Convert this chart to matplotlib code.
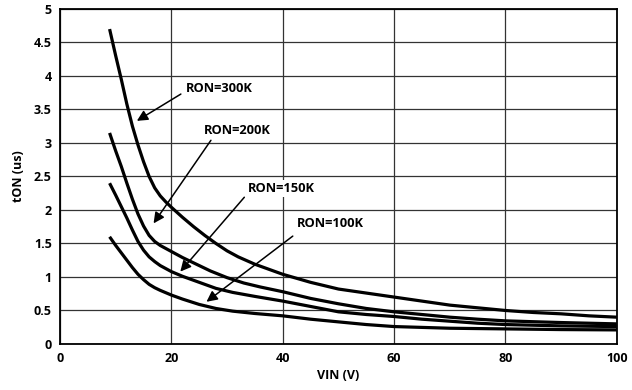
import matplotlib
matplotlib.use("Agg")
import matplotlib.pyplot as plt

plt.rcParams['font.family'] = ['Open Sans', 'DejaVu Sans']

# VIN (V) and tON (us)
vin_300k = [8.9, 10, 11, 12, 13, 14, 15, 16, 17, 18, 19, 20, 22, 24, 26, 28, 30, 32, 35, 38, 40, 45, 50, 55, 60, 65, 70, 75, 80, 85, 90, 95, 100]
ton_300k = [4.70, 4.30, 3.95, 3.58, 3.25, 2.97, 2.72, 2.50, 2.33, 2.21, 2.12, 2.04, 1.89, 1.75, 1.62, 1.50, 1.39, 1.30, 1.19, 1.10, 1.04, 0.92, 0.82, 0.76, 0.70, 0.64, 0.58, 0.54, 0.50, 0.47, 0.45, 0.42, 0.40]

vin_200k = [8.9, 10, 11, 12, 13, 14, 15, 16, 17, 18, 20, 22, 24, 27, 30, 33, 36, 40, 45, 50, 55, 60, 65, 70, 75, 80, 90, 100]
ton_200k = [3.15, 2.88, 2.65, 2.40, 2.16, 1.94, 1.76, 1.62, 1.53, 1.47, 1.38, 1.29, 1.21, 1.09, 0.99, 0.91, 0.85, 0.78, 0.68, 0.60, 0.53, 0.48, 0.44, 0.40, 0.37, 0.345, 0.32, 0.30]

vin_150k = [8.9, 10, 11, 12, 13, 14, 15, 16, 17, 18, 20, 22, 25, 28, 31, 35, 40, 45, 50, 55, 60, 65, 70, 75, 80, 90, 100]
ton_150k = [2.40, 2.22, 2.05, 1.88, 1.70, 1.53, 1.40, 1.30, 1.23, 1.17, 1.08, 1.01, 0.92, 0.83, 0.77, 0.71, 0.64, 0.56, 0.48, 0.44, 0.41, 0.37, 0.34, 0.31, 0.29, 0.27, 0.26]

vin_100k = [8.9, 10, 11, 12, 13, 14, 15, 16, 17, 18, 20, 22, 25, 28, 31, 35, 40, 45, 50, 55, 60, 70, 80, 90, 100]
ton_100k = [1.60, 1.47, 1.36, 1.25, 1.14, 1.04, 0.96, 0.89, 0.84, 0.80, 0.73, 0.67, 0.59, 0.53, 0.49, 0.455, 0.42, 0.37, 0.33, 0.29, 0.26, 0.235, 0.225, 0.215, 0.21]

labels = ["RON=300K", "RON=200K", "RON=150K", "RON=100K"]
label_pos = [(22.6, 3.82), (25.9, 3.18), (33.8, 2.32), (42.6, 1.80)]
arrow_tail = [(21.7, 3.73), (27.1, 3.04), (33.1, 2.19), (41.8, 1.61)]
arrow_head = [(13.8, 3.33), (16.8, 1.80), (21.6, 1.08), (26.3, 0.63)]

fig = plt.figure(figsize=(6.32, 3.9), dpi=100)
ax = fig.add_axes([0.095, 0.118, 0.881, 0.859])

for xs, ys in [(vin_300k, ton_300k), (vin_200k, ton_200k), (vin_150k, ton_150k), (vin_100k, ton_100k)]:
    ax.plot(xs, ys, color='black', lw=2.3, solid_capstyle='butt', solid_joinstyle='round', zorder=3)

for txt, pos, tail, head in zip(labels, label_pos, arrow_tail, arrow_head):
    ax.annotate('', xy=head, xytext=tail,
                arrowprops=dict(arrowstyle='-|>', color='black', lw=1.1, mutation_scale=16,
                                shrinkA=0, shrinkB=0), zorder=4)
    ax.text(pos[0], pos[1], txt, fontsize=9.3, fontweight='bold', ha='left', va='center',
            bbox=dict(facecolor='white', edgecolor='none', pad=1.5), zorder=5)

ax.set_xlim(0, 100)
ax.set_ylim(0, 5)
ax.set_xticks([0, 20, 40, 60, 80, 100])
ax.set_yticks([0, 0.5, 1, 1.5, 2, 2.5, 3, 3.5, 4, 4.5, 5])
ax.set_yticklabels(['0', '0.5', '1', '1.5', '2', '2.5', '3', '3.5', '4', '4.5', '5'])
ax.grid(True, color='#333333', lw=0.9)
ax.set_axisbelow(True)
ax.tick_params(length=0, labelsize=9, pad=6)
for lbl in ax.get_xticklabels() + ax.get_yticklabels():
    lbl.set_fontweight('bold')
for s in ax.spines.values():
    s.set_linewidth(1.3)

ax.set_xlabel("VIN (V)", fontsize=9, fontweight='bold', labelpad=3)
ax.set_ylabel("tON (us)", fontsize=9, fontweight='bold', labelpad=6)

fig.savefig("out.png", dpi=100)
